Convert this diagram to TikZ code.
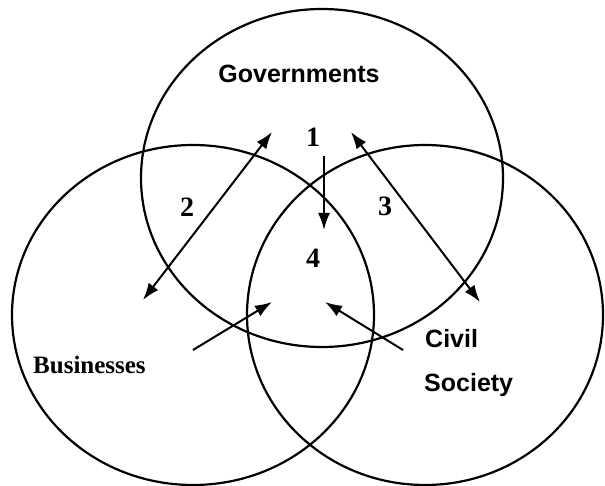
\documentclass[tikz,border=0pt]{standalone}
\usepackage{fontspec}
\newfontfamily\sansbf{Liberation Sans}
\newfontfamily\serifbf{Liberation Serif}
\usetikzlibrary{arrows.meta}
\begin{document}
\begin{tikzpicture}[x=1pt,y=-1pt,
  ring/.style={line width=2.2pt},
  link/.style={line width=2pt,-{Latex[length=17pt,width=12pt]}},
  dlink/.style={line width=2pt,{Latex[length=17pt,width=12pt]}-{Latex[length=17pt,width=12pt]}},
  lbl/.style={inner sep=0pt,font=\sansbf\bfseries\fontsize{25}{30}\selectfont},
  slbl/.style={inner sep=0pt,font=\serifbf\bfseries\fontsize{25}{30}\selectfont},
  num/.style={inner sep=0pt,anchor=base,font=\serifbf\bfseries\fontsize{28}{32}\selectfont}]
\useasboundingbox (0,0) rectangle (605,486);
\fill[white] (0,0) rectangle (605,486);
% circles
\draw[ring] (322,178) ellipse [x radius=181pt, y radius=169pt];
\draw[ring] (193,315) ellipse [x radius=181pt, y radius=170pt];
\draw[ring] (425,315) ellipse [x radius=178pt, y radius=170pt];
% labels
\node[lbl,anchor=base] (gov) at (299,83) {Governments};
\node[slbl,anchor=base west] (bus) at (33,373) {Businesses};
\node[lbl,anchor=base west] (civ1) at (425,347) {Civil};
\node[lbl,anchor=base west] (civ2) at (424,391) {Society};
\node[num] (n1) at (313,147) {1};
\node[num] (n2) at (187,217) {2};
\node[num] (n3) at (385,216) {3};
\node[num] (n4) at (313,268) {4};
% arrow end points
\coordinate (a2s) at (143,300);
\coordinate (a2e) at (272,132);
\coordinate (a3s) at (351,132);
\coordinate (a3e) at (480,302);
\coordinate (a1s) at (324,156);
\coordinate (a1e) at (324,230);
\coordinate (abs) at (193,350);
\coordinate (abe) at (272,302);
\coordinate (acs) at (403,350);
\coordinate (ace) at (325,302);
% arrows
\draw[dlink] (a2s) -- (a2e);
\draw[dlink] (a3s) -- (a3e);
\draw[link] (a1s) -- (a1e);
\draw[link] (abs) -- (abe);
\draw[link] (acs) -- (ace);
\end{tikzpicture}
\end{document}
